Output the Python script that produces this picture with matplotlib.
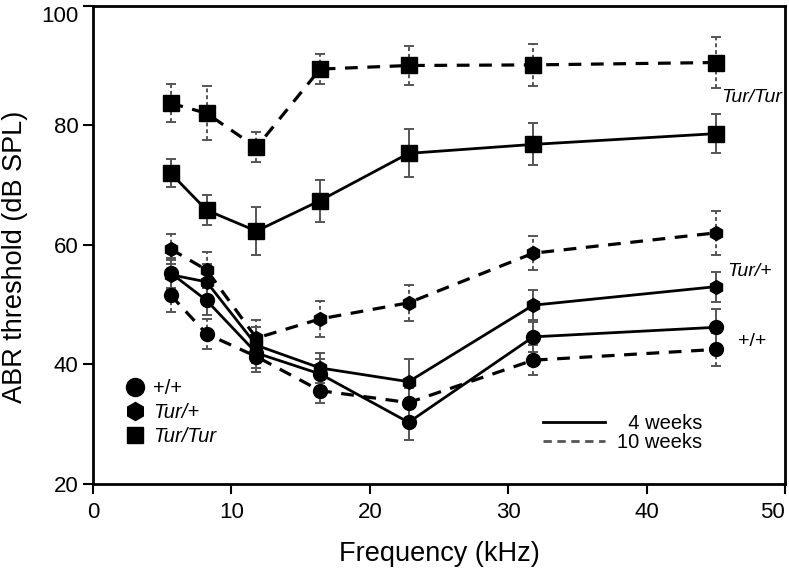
import matplotlib
matplotlib.use("Agg")
import matplotlib.pyplot as plt
from matplotlib.lines import Line2D

# ==========================================================
# DATA
# ==========================================================

freq = [5.6, 8.2, 11.8, 16.4, 22.8, 31.8, 45.0]

wt_4w = [55.3, 50.7, 41.9, 38.4, 30.3, 44.6, 46.2]
wt_4w_err = [2.5, 2.5, 2.5, 2.5, 3.0, 2.5, 3.0]

wt_10w = [51.6, 45.1, 41.3, 35.6, 33.6, 40.7, 42.5]
wt_10w_err = [2.8, 2.5, 2.5, 2.0, 2.5, 2.5, 2.7]

het_4w = [55.0, 53.8, 43.2, 39.4, 37.1, 49.9, 53.0]
het_4w_err = [2.5, 3.0, 3.0, 2.5, 3.8, 2.5, 2.5]

het_10w = [59.3, 55.8, 44.4, 47.6, 50.3, 58.6, 62.0]
het_10w_err = [2.5, 3.0, 3.0, 3.0, 3.0, 2.8, 3.7]

hom_4w = [72.0, 65.8, 62.3, 67.4, 75.3, 76.8, 78.6]
hom_4w_err = [2.3, 2.5, 4.0, 3.5, 4.0, 3.5, 3.3]

hom_10w = [83.7, 82.0, 76.3, 89.4, 90.0, 90.1, 90.5]
hom_10w_err = [3.2, 4.5, 2.5, 2.5, 3.3, 3.5, 4.2]

genotypes = ["+/+", "Tur/+", "Tur/Tur"]
ages = ["  4 weeks", "10 weeks"]

# ==========================================================
# PLOT
# ==========================================================

plt.rcParams["font.family"] = ["Liberation Sans", "DejaVu Sans"]

fig = plt.figure(figsize=(7.89, 5.72), dpi=100)
ax = fig.add_axes([0.118, 0.154, 0.877, 0.836])

series = [
    (wt_4w, wt_4w_err, "o", "-"),
    (wt_10w, wt_10w_err, "o", "--"),
    (het_4w, het_4w_err, "h", "-"),
    (het_10w, het_10w_err, "h", "--"),
    (hom_4w, hom_4w_err, "s", "-"),
    (hom_10w, hom_10w_err, "s", "--"),
]

for vals, err, mk, ls in series:
    eb = ax.errorbar(
        freq, vals, yerr=err,
        color="black", ecolor="#555555",
        marker=mk, markersize=10 if mk != "s" else 11,
        linestyle=ls, linewidth=2.0 if ls == "-" else 2.3,
        elinewidth=1.4, capsize=3.5, capthick=1.4,
    )
    if ls == "--":
        eb.lines[0].set_dashes([4, 3])
        eb.lines[2][0].set_linestyle((0, (2, 1.5)))

ax.set_xlim(0, 50)
ax.set_ylim(20, 100)
ax.set_xticks([0, 10, 20, 30, 40, 50])
ax.set_yticks([20, 40, 60, 80, 100])

for s in ax.spines.values():
    s.set_linewidth(2)

ax.tick_params(direction="out", length=7, width=1.5, labelsize=16)
ax.tick_params(axis="x", pad=6)

# edge labels kept inside the canvas
ax.get_xticklabels()[-1].set_horizontalalignment("right")
ax.get_yticklabels()[-1].set_verticalalignment("top")

ax.set_xlabel("Frequency (kHz)", fontsize=19.5, labelpad=13)
ax.set_ylabel("ABR threshold (dB SPL)", fontsize=19.5)
ax.yaxis.set_label_coords(-0.094, 0.475)

# curve labels
ax.text(45.4, 84.7, "Tur/Tur", fontsize=14, style="italic", ha="left", va="center")
ax.text(45.8, 55.6, "Tur/+", fontsize=14, style="italic", ha="left", va="center")
ax.text(46.6, 43.8, "+/+", fontsize=14, ha="left", va="center")

# genotype legend
geno_handles = [
    Line2D([], [], color="black", marker="o", markersize=13, linestyle="none"),
    Line2D([], [], color="black", marker="h", markersize=13, linestyle="none"),
    Line2D([], [], color="black", marker="s", markersize=12, linestyle="none"),
]
leg1 = ax.legend(
    geno_handles, genotypes,
    loc="center left", bbox_to_anchor=(0.046, 0.149),
    frameon=False, fontsize=14.5, handlelength=1.0, handletextpad=0.4,
    labelspacing=0.25, borderaxespad=0, borderpad=0,
)
for t in leg1.get_texts()[1:]:
    t.set_style("italic")
ax.add_artist(leg1)

# age legend
age_handles = [
    Line2D([], [], color="black", linewidth=2, linestyle="-"),
    Line2D([], [], color="#555555", linewidth=2, linestyle=(0, (3, 2))),
]
ax.legend(
    age_handles, ages,
    loc="center left", bbox_to_anchor=(0.650, 0.107),
    frameon=False, fontsize=14.5, handlelength=3.1,
    handletextpad=0.6, labelspacing=0.0, borderaxespad=0, borderpad=0,
)

fig.savefig("out.png", dpi=100)
